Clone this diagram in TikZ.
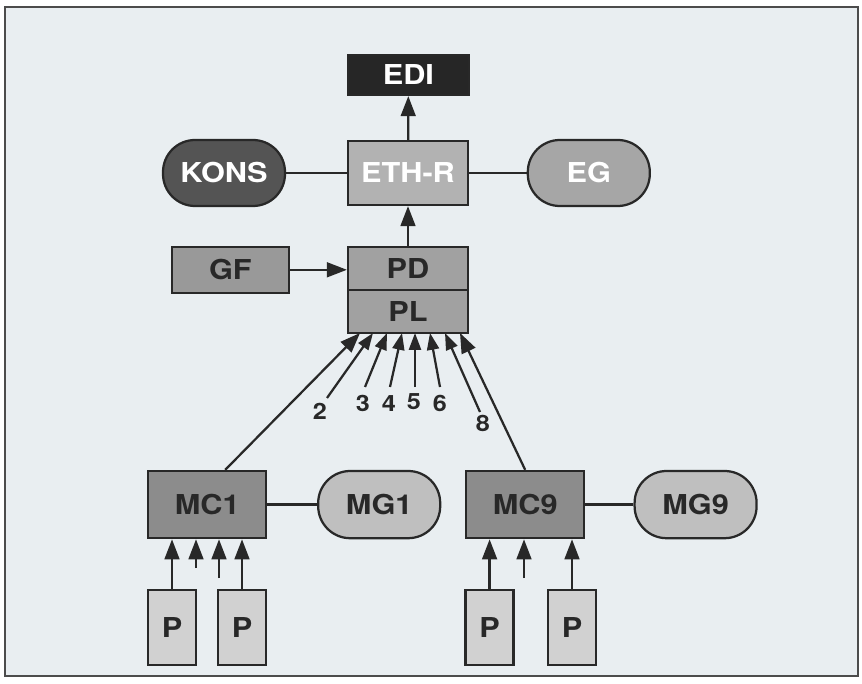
\documentclass[tikz,border=0pt]{standalone}
\usepackage{fontspec}
\setmainfont[FakeStretch=1.12]{TeX Gyre Heros}
\usepackage{xcolor}
\usepackage{tikz}
\usetikzlibrary{arrows.meta}
\definecolor{paper}{RGB}{233,238,241}
\definecolor{inkdark}{RGB}{40,40,40}

\begin{document}
\begin{tikzpicture}[
    box/.style={draw=inkdark, line width=1.6pt, inner sep=0pt, text=inkdark,
                font=\bfseries\fontsize{19.5}{21}\selectfont},
    pill/.style={box, rounded corners=0.8cm, minimum width=3.05cm, minimum height=1.65cm},
    arr/.style={draw=inkdark, line width=1.6pt, -{Triangle[length=5mm,width=3.7mm]}},
    thin arr/.style={arr, -{Triangle[length=4.2mm,width=3mm]}},
    link/.style={draw=inkdark, line width=1.6pt},
    num/.style={font=\bfseries\fontsize{16}{18}\selectfont, text=inkdark, inner sep=0pt}
  ]
  \useasboundingbox (0,0) rectangle (21.55,17.075);
  \draw[fill=paper, draw=black!70, line width=0.8pt] (0.125,0.175) rectangle (21.45,16.9);

  % top row
  \node[box, fill=black!85, text=white, minimum width=3.03cm, minimum height=1cm](EDI) at (10.21,15.2) {EDI};
  \node[box, fill=black!30, text=white, minimum width=3cm, minimum height=1.6cm](ETHR) at (10.2,12.75) {ETH-R};
  \node[pill, fill=black!67, text=white](KONS) at (5.6,12.75) {KONS};
  \node[pill, fill=black!35, text=white](EG) at (14.72,12.75) {EG};

  % PD / PL
  \node[box, fill=black!40, minimum width=2.93cm, minimum height=1.15cm](GF) at (5.76,10.33) {GF};
  \node[box, fill=black!37, minimum width=3cm, minimum height=1.075cm](PD) at (10.2,10.36) {PD};
  \node[box, fill=black!37, minimum width=3cm, minimum height=1.075cm](PL) at (10.2,9.29) {PL};

  % MC rows
  \node[box, fill=black!45, minimum width=2.95cm, minimum height=1.68cm](MC1) at (5.18,4.46) {MC1};
  \node[pill, fill=black!25, minimum height=1.68cm](MG1) at (9.48,4.46) {MG1};
  \node[box, fill=black!45, minimum width=2.95cm, minimum height=1.68cm](MC9) at (13.13,4.46) {MC9};
  \node[pill, fill=black!25, minimum height=1.68cm](MG9) at (17.39,4.46) {MG9};

  \node[box, fill=black!18, minimum width=1.2cm, minimum height=1.88cm](P1) at (4.3,1.39) {P};
  \node[box, fill=black!18, minimum width=1.2cm, minimum height=1.88cm](P2) at (6.05,1.39) {P};
  \node[box, fill=black!18, minimum width=1.2cm, minimum height=1.88cm](P3) at (12.24,1.39) {P};
  \node[box, fill=black!18, minimum width=1.2cm, minimum height=1.88cm](P4) at (14.3,1.39) {P};

  \draw[link] (KONS) -- (ETHR) -- (EG);
  \draw[link] (MC1) -- (MG1) (MC9) -- (MG9);
  \draw[arr] (ETHR) -- (EDI);
  \draw[arr] (PD) -- (ETHR);
  \draw[arr] (GF.east) -- (GF.east -| PD.west);

  % links into PL
  \coordinate (H1) at (9.0,8.75);
  \coordinate (H2) at (9.325,8.75);
  \coordinate (H3) at (9.675,8.75);
  \coordinate (H4) at (10.05,8.75);
  \coordinate (H5) at (10.375,8.75);
  \coordinate (H6) at (10.75,8.75);
  \coordinate (H8) at (11.125,8.75);
  \coordinate (H9) at (11.5,8.75);
  \node[num](L2) at (8.0,6.78) {2};
  \node[num](L3) at (9.075,6.98) {3};
  \node[num](L4) at (9.725,6.98) {4};
  \node[num](L5) at (10.35,7.03) {5};
  \node[num](L6) at (11.0,6.98) {6};
  \node[num](L8) at (12.075,6.48) {8};
  \coordinate (T2) at (8.175,7.125);
  \coordinate (T3) at (9.125,7.4);
  \coordinate (T4) at (9.75,7.4);
  \coordinate (T5) at (10.375,7.4);
  \coordinate (T6) at (11.0,7.4);
  \coordinate (T8) at (12.0,6.775);
  \draw[arr] ([xshift=0.45cm]MC1.north) -- (H1);
  \draw[arr] (MC9.north) -- (H9);
  \draw[thin arr] (T2) -- (H2);
  \draw[thin arr] (T3) -- (H3);
  \draw[thin arr] (T4) -- (H4);
  \draw[thin arr] (T5) -- (H5);
  \draw[thin arr] (T6) -- (H6);
  \draw[thin arr] (T8) -- (H8);

  % P inputs
  \coordinate (S1) at (4.9,2.875);
  \coordinate (S2) at (5.475,2.625);
  \coordinate (S3) at (13.1,2.625);
  \draw[arr] (P1) -- (P1 |- MC1.south);
  \draw[arr] (P2) -- (P2 |- MC1.south);
  \draw[arr] (S1) -- (S1 |- MC1.south);
  \draw[arr] (S2) -- (S2 |- MC1.south);
  \draw[arr] (P3) -- (P3 |- MC9.south);
  \draw[arr] (P4) -- (P4 |- MC9.south);
  \draw[arr] (S3) -- (S3 |- MC9.south);
\end{tikzpicture}
\end{document}
